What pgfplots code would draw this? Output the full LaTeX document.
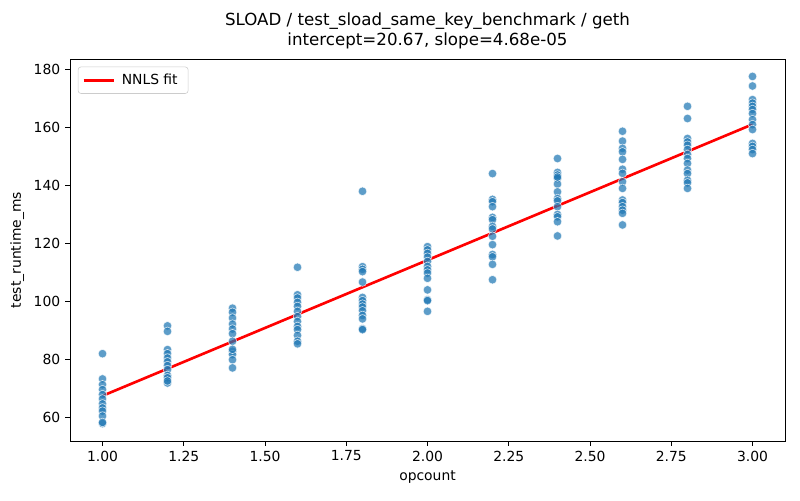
\documentclass[border=0pt]{standalone}
\usepackage{pgfplots}
\pgfplotsset{compat=1.18}
\usepackage{pgfplotstable}
\usepackage{fontspec}
\setmainfont{DejaVu Sans}
\definecolor{mplblue}{HTML}{1F77B4}
\pgfplotstableread{
x y
1000000 82.0
1000000 73.3
1000000 71.3
1000000 69.6
1000000 67.9
1000000 66.4
1000000 64.7
1000000 63.3
1000000 62.2
1000000 60.5
1000000 57.9
1000000 58.3
1200000 91.6
1200000 89.7
1200000 83.4
1200000 82.0
1200000 80.5
1200000 79.2
1200000 77.9
1200000 76.5
1200000 74.5
1200000 73.7
1200000 71.9
1200000 72.6
1400000 97.7
1400000 96.3
1400000 94.3
1400000 92.2
1400000 90.5
1400000 88.9
1400000 86.3
1400000 82.8
1400000 81.7
1400000 79.9
1400000 77.1
1400000 83.5
1600000 111.8
1600000 102.3
1600000 101.2
1600000 99.7
1600000 98.3
1600000 96.6
1600000 94.8
1600000 93.1
1600000 91.4
1600000 90.3
1600000 88.3
1600000 86.3
1600000 85.4
1800000 138.0
1800000 112.0
1800000 111.1
1800000 110.3
1800000 106.7
1800000 101.4
1800000 100.3
1800000 99.1
1800000 98.1
1800000 96.8
1800000 95.2
1800000 94.0
1800000 90.6
1800000 90.3
2000000 118.9
2000000 117.8
2000000 116.6
2000000 115.3
2000000 113.8
2000000 112.1
2000000 110.9
2000000 109.8
2000000 108.0
2000000 104.0
2000000 100.6
2000000 96.6
2000000 100.3
2200000 144.1
2200000 135.2
2200000 134.4
2200000 132.7
2200000 129.0
2200000 128.2
2200000 125.9
2200000 125.0
2200000 122.5
2200000 119.6
2200000 116.2
2200000 115.4
2200000 112.8
2200000 107.5
2400000 149.3
2400000 144.5
2400000 143.6
2400000 142.4
2400000 140.5
2400000 137.8
2400000 135.5
2400000 134.7
2400000 132.7
2400000 130.0
2400000 129.2
2400000 127.5
2400000 122.6
2400000 142.9
2600000 158.7
2600000 155.3
2600000 152.8
2600000 151.6
2600000 149.0
2600000 145.6
2600000 144.2
2600000 141.3
2600000 139.0
2600000 135.0
2600000 134.1
2600000 132.7
2600000 131.5
2600000 130.4
2600000 126.4
2800000 167.3
2800000 163.1
2800000 156.2
2800000 155.0
2800000 153.9
2800000 152.4
2800000 150.7
2800000 149.3
2800000 147.6
2800000 145.3
2800000 144.1
2800000 141.8
2800000 140.9
2800000 139.0
3000000 177.6
3000000 174.3
3000000 169.6
3000000 168.4
3000000 167.3
3000000 166.2
3000000 164.8
3000000 162.7
3000000 161.0
3000000 159.3
3000000 154.5
3000000 153.5
3000000 152.4
3000000 151.0
}\points
\pgfplotstableread{
x y
1000000 67.47
3000000 161.07
}\fitline
\begin{document}
\begin{tikzpicture}
\path[use as bounding box] (0,0) rectangle (576pt,360pt);
\begin{axis}[
  at={(50.4pt,42.5pt)}, anchor=south west,
  scale only axis, width=514.8pt, height=275pt,
  xmin=900000, xmax=3100000, ymin=51.9, ymax=183.6,
  scaled x ticks=false,
  xtick={1000000,1250000,1500000,1750000,2000000,2250000,2500000,2750000,3000000},
  xticklabels={1.00,1.25,1.50,1.75,2.00,2.25,2.50,2.75,3.00},
  ytick={60,80,100,120,140,160,180},
  /pgf/number format/assume math mode=true,
  tick align=outside, tick pos=left,
  major tick length=3.5pt,
  every tick/.style={black, line width=0.6pt},
  axis line style={line width=0.6pt},
  tick label style={font=\fontsize{10}{12}\selectfont},
  label style={font=\fontsize{10}{12}\selectfont},
  xlabel={opcount}, ylabel={test\_runtime\_ms},
  title={SLOAD / test\_sload\_same\_key\_benchmark / geth\\intercept=20.67, slope=4.68e-05},
  title style={align=center, font=\fontsize{12}{14}\selectfont, yshift=-2pt},
  legend style={font=\fontsize{10}{12}\selectfont, draw=black!20, rounded corners=2pt, inner sep=3pt, at={(0.011,0.98)}, anchor=north west, nodes={inner xsep=4.5pt}},
  legend image code/.code={\draw[#1] (-2pt,0pt) -- (20pt,0pt);},
  legend cell align=left,
]
\addplot[only marks, mark=*, mark size=3.1pt, mark options={fill=mplblue, fill opacity=0.72, draw=white, draw opacity=0.8, line width=0.4pt}, forget plot] table[x=x,y=y] {\points};
\addplot[red, line width=1.9pt] table[x=x,y=y] {\fitline};
\addlegendentry{NNLS fit}
\node[anchor=north east, font=\fontsize{10}{12}\selectfont] at (rel axis cs:1,0) [yshift=-17pt] {1e6};
\end{axis}
\end{tikzpicture}
\end{document}
